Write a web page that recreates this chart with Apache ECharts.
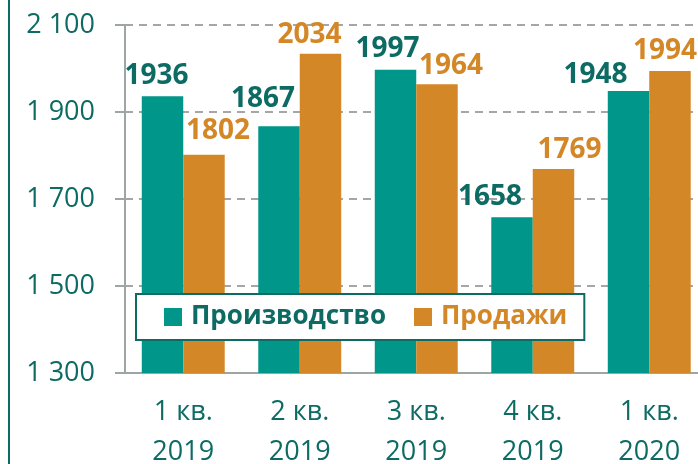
<!DOCTYPE html>
<html>
<head>
<meta charset="utf-8">
<script src="https://cdn.jsdelivr.net/npm/echarts@6/dist/echarts.min.js"></script>
<style>
  html, body { margin: 0; padding: 0; background: #fff; }
  #main { width: 698px; height: 464px; }
</style>
</head>
<body>
<div id="main"></div>
<script>
var quarters = ['1 кв.\n2019', '2 кв.\n2019', '3 кв.\n2019', '4 кв.\n2019', '1 кв.\n2020'];
var production = [1936, 1867, 1997, 1658, 1948];
var sales = [1802, 2034, 1964, 1769, 1994];

var teal = '#00968a';
var tealDark = '#0d6b63';
var orange = '#d48726';
var font = 'Open Sans';

// labels were nudged by hand in the original so they don't collide
var prodLabelShift = [[-6, 0], [-16, -7], [-8, -1], [-22, 0], [-33, 4]];
var salesLabelShift = [[14, -4], [-11, 1], [14, 2], [16, 1], [-5, 0]];

function withShift(values, shifts) {
    return values.map(function (v, i) {
        return { value: v, label: { offset: shifts[i] } };
    });
}

var chart = echarts.init(document.getElementById('main'));

chart.setOption({
    animation: false,
    textStyle: { fontFamily: font },
    graphic: [{
        type: 'line',
        shape: { x1: 9, y1: 0, x2: 9, y2: 464 },
        style: { stroke: tealDark, lineWidth: 2 }
    }],
    grid: { left: 125, top: 25, bottom: 91, width: 582.5, outerBoundsMode: 'none' },
    legend: {
        left: 136,
        top: 294,
        icon: 'rect',
        itemWidth: 18,
        itemHeight: 18,
        itemGap: 28,
        padding: [10, 17, 10, 28],
        backgroundColor: '#fff',
        borderColor: tealDark,
        borderWidth: 2,
        borderRadius: 0,
        z: 10,
        data: [
            { name: 'Производство', textStyle: { color: tealDark } },
            { name: 'Продажи', textStyle: { color: orange } }
        ],
        textStyle: { fontFamily: font, fontSize: 26, fontWeight: 'bold', padding: [0, 0, 0, 4] }
    },
    xAxis: {
        type: 'category',
        data: quarters,
        axisLine: { lineStyle: { color: '#9ea6a5', width: 2 } },
        axisTick: { length: 10, lineStyle: { color: '#9ea6a5', width: 2 } },
        axisLabel: { color: tealDark, fontSize: 27, lineHeight: 40, margin: 19 }
    },
    yAxis: {
        type: 'value',
        min: 1300,
        max: 2100,
        interval: 200,
        axisLine: { show: true, lineStyle: { color: '#9ea6a5', width: 2 } },
        axisTick: { show: true, length: 10, lineStyle: { color: '#9ea6a5', width: 2 } },
        splitLine: { lineStyle: { color: '#a6a6a6', width: 2, type: [8, 6] } },
        axisLabel: {
            color: tealDark,
            fontSize: 27,
            margin: 30,
            formatter: function (v) { return String(v).replace(/\B(?=(\d{3})+$)/, ' '); }
        }
    },
    series: [{
        name: 'Производство',
        type: 'bar',
        data: withShift(production, prodLabelShift),
        barGap: '0%',
        barCategoryGap: '28.8%',
        itemStyle: { color: teal },
        label: { show: true, position: 'top', distance: 6, color: tealDark, fontSize: 28, fontWeight: 'bold', fontFamily: font }
    }, {
        name: 'Продажи',
        type: 'bar',
        data: withShift(sales, salesLabelShift),
        itemStyle: { color: orange },
        label: { show: true, position: 'top', distance: 6, color: orange, fontSize: 28, fontWeight: 'bold', fontFamily: font }
    }]
});
</script>
</body>
</html>
